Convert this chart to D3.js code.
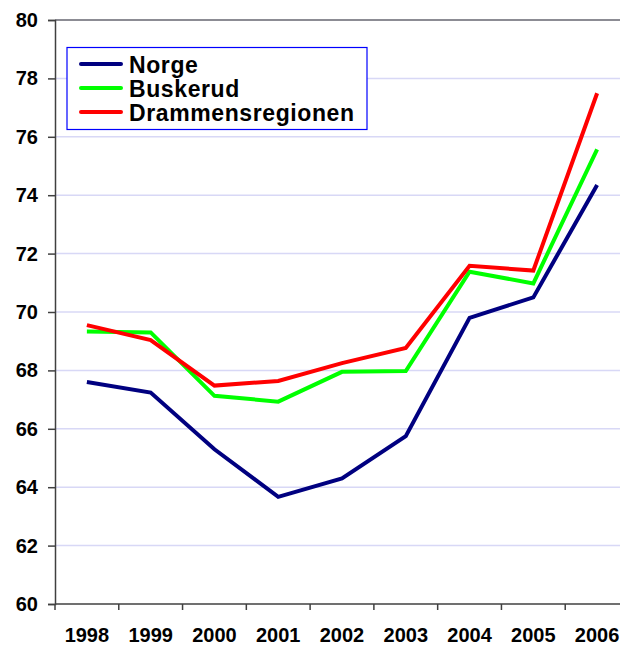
<!DOCTYPE html>
<html>
<head>
<meta charset="utf-8">
<script src="https://cdn.jsdelivr.net/npm/d3@7/dist/d3.min.js"></script>
<style>
  html, body { margin: 0; padding: 0; background: #fff; }
  svg { display: block; font-family: "Liberation Sans", Arial, sans-serif; }
</style>
</head>
<body>
<svg id="chart" width="620" height="648"></svg>
<script>
// Years on the category axis
const years = ["1998", "1999", "2000", "2001", "2002", "2003", "2004", "2005", "2006"];

// Series values per year
const norge = [67.6, 67.24, 65.3, 63.67, 64.3, 65.75, 69.8, 70.5, 74.35];
const buskerud = [69.33, 69.3, 67.13, 66.93, 67.95, 67.98, 71.38, 70.98, 75.57];
const drammensregionen = [69.55, 69.04, 67.48, 67.64, 68.25, 68.77, 71.58, 71.42, 77.49];

// Value axis ticks
const yTicks = [60, 62, 64, 66, 68, 70, 72, 74, 76, 78, 80];

const seriesNames = ["Norge", "Buskerud", "Drammensregionen"];
const seriesColors = ["#000080", "#00ff00", "#ff0000"];
const seriesData = [norge, buskerud, drammensregionen];

const svg = d3.select("#chart");
const plotLeft = 55, plotRight = 629, plotTop = 20, plotBottom = 604;

const x = d3.scaleBand().domain(years).range([plotLeft, plotRight]).padding(0);
const y = d3.scaleLinear().domain([60, 80]).range([plotBottom, plotTop]);

// horizontal gridlines
svg.append("g")
  .selectAll("line")
  .data(yTicks.filter(t => t > 60 && t < 80))
  .join("line")
  .attr("x1", plotLeft).attr("x2", 620)
  .attr("y1", d => y(d)).attr("y2", d => y(d))
  .attr("stroke", "#d8d8f6").attr("stroke-width", 1.5);

// top border of plot area
svg.append("line")
  .attr("x1", plotLeft).attr("x2", 620)
  .attr("y1", y(80)).attr("y2", y(80))
  .attr("stroke", "#8c8c94").attr("stroke-width", 2);

// y axis
const yAxis = d3.axisLeft(y).tickValues(yTicks).tickSize(7).tickPadding(10).tickFormat(d3.format("d"));
const gy = svg.append("g").attr("transform", `translate(${plotLeft},0)`).call(yAxis);
gy.select(".domain").attr("stroke", "#404040").attr("stroke-width", 1.5);
gy.selectAll(".tick line").attr("stroke", "#404040").attr("stroke-width", 1.5);
gy.selectAll(".tick text")
  .attr("font-size", 20).attr("font-weight", "bold").attr("fill", "#000")
  .attr("font-family", "'Liberation Sans', Arial, sans-serif");

// x axis: ticks on band boundaries, labels centred in bands
const gx = svg.append("g").attr("transform", `translate(0,${plotBottom})`);
gx.append("line").attr("x1", plotLeft).attr("x2", 620).attr("y1", 0).attr("y2", 0)
  .attr("stroke", "#404040").attr("stroke-width", 1.5);
gx.selectAll("line.tk")
  .data(years)
  .join("line").attr("class", "tk")
  .attr("x1", d => x(d)).attr("x2", d => x(d))
  .attr("y1", 0).attr("y2", 6)
  .attr("stroke", "#404040").attr("stroke-width", 1.5);
gx.selectAll("text")
  .data(years)
  .join("text")
  .attr("x", d => x(d) + x.bandwidth() / 2)
  .attr("y", 38)
  .attr("text-anchor", "middle")
  .attr("font-size", 20).attr("font-weight", "bold").attr("fill", "#000")
  .text(d => d);

// series lines
const line = d3.line()
  .x((d, i) => x(years[i]) + x.bandwidth() / 2)
  .y(d => y(d));

svg.append("g")
  .selectAll("path")
  .data(seriesData)
  .join("path")
  .attr("d", d => line(d))
  .attr("fill", "none")
  .attr("stroke", (d, i) => seriesColors[i])
  .attr("stroke-width", 4)
  .attr("stroke-linejoin", "miter");

// legend
const lg = svg.append("g");
lg.append("rect")
  .attr("x", 67).attr("y", 47.5).attr("width", 300).attr("height", 82)
  .attr("fill", "#fff").attr("stroke", "#0000ff").attr("stroke-width", 1.2);
const rows = lg.selectAll("g.row")
  .data(seriesNames)
  .join("g").attr("class", "row")
  .attr("transform", (d, i) => `translate(0,${64 + i * 24})`);
rows.append("line")
  .attr("x1", 81).attr("x2", 121).attr("y1", 0).attr("y2", 0)
  .attr("stroke", (d, i) => seriesColors[i]).attr("stroke-width", 4)
  .attr("stroke-linecap", "round");
rows.append("text")
  .attr("x", 129).attr("y", 9)
  .attr("font-size", 23).attr("font-weight", "bold").attr("fill", "#000")
  .attr("letter-spacing", 0.6)
  .text(d => d);
</script>
</body>
</html>
